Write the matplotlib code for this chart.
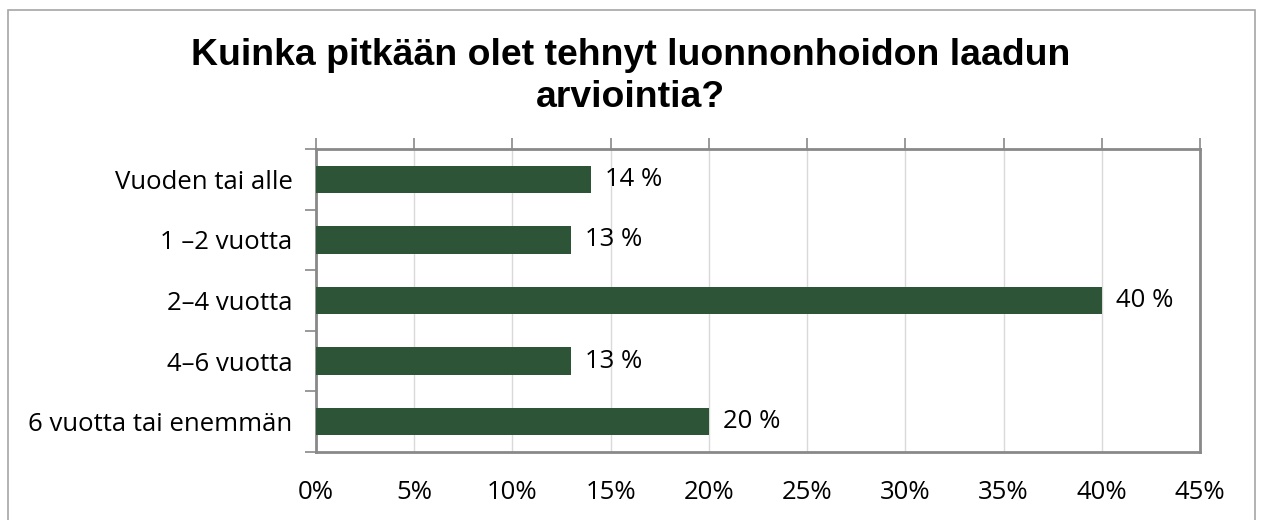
import matplotlib
matplotlib.use("Agg")
import matplotlib.pyplot as plt
from matplotlib.patches import Rectangle
import numpy as np

categories = ["Vuoden tai alle", "1 \u20132 vuotta", "2\u20134 vuotta", "4\u20136 vuotta", "6 vuotta tai enemmän"]
values = [14, 13, 40, 13, 20]
value_labels = ["14 %", "13 %", "40 %", "13 %", "20 %"]
xticks = [0, 5, 10, 15, 20, 25, 30, 35, 40, 45]
xtick_labels = ["0%", "5%", "10%", "15%", "20%", "25%", "30%", "35%", "40%", "45%"]
title_lines = ["Kuinka pitkään olet tehnyt luonnonhoidon laadun", "arviointia?"]

W, H = 1261, 520
fig = plt.figure(figsize=(W / 100, H / 100), dpi=100)
fig.patch.set_facecolor("white")

# outer border
fig.patches.append(Rectangle((8 / W, -0.01), (1255 - 8) / W, (H - 10) / H + 0.01,
                             transform=fig.transFigure, fill=False,
                             edgecolor="#a6a6a6", linewidth=1.2))

left, right, top, bottom = 316, 1200, 149, 452
ax = fig.add_axes([left / W, 1 - bottom / H, (right - left) / W, (bottom - top) / H])

font = "Open Sans"
fs = 18.5
bar_color = "#2d5436"
y = np.arange(len(categories))
ax.barh(y, values, height=0.45, color=bar_color, zorder=3)
ax.set_ylim(len(categories) - 0.5, -0.5)
ax.set_xlim(0, 45)

for yi, v, lab in zip(y, values, value_labels):
    ax.text(v + 0.7, yi, lab, va="center", ha="left", fontsize=fs, family=font, color="#000000")

ax.set_xticks(xticks)
ax.set_xticklabels(xtick_labels, fontsize=fs, family=font)
ax.tick_params(axis="x", which="major", length=0, pad=20)
ax.grid(axis="x", color="#d9d9d9", linewidth=1, zorder=0)

# top tick marks
ax2 = ax.secondary_xaxis("top")
ax2.set_xticks(xticks)
ax2.set_xticklabels([])
ax2.tick_params(axis="x", length=8, width=1.2, color="#898989", direction="out")
ax2.spines["top"].set_visible(False)

ax.set_yticks(y)
ax.set_yticklabels(categories, fontsize=fs, family=font)
ax.tick_params(axis="y", which="major", length=0, pad=17)
ax.set_yticks(np.arange(-0.5, len(categories), 1), minor=True)
ax.tick_params(axis="y", which="minor", length=8, width=1.2, color="#898989", direction="out")
ax.tick_params(axis="x", which="minor", length=0)

for s in ax.spines.values():
    s.set_color("#898989")
    s.set_linewidth(2)

for line, base in zip(title_lines, [65, 107]):
    fig.text(0.5, 1 - base / H, line, ha="center", va="baseline", fontsize=26.9,
             fontweight="bold", family="Liberation Sans")

fig.savefig("out.png", dpi=100)
